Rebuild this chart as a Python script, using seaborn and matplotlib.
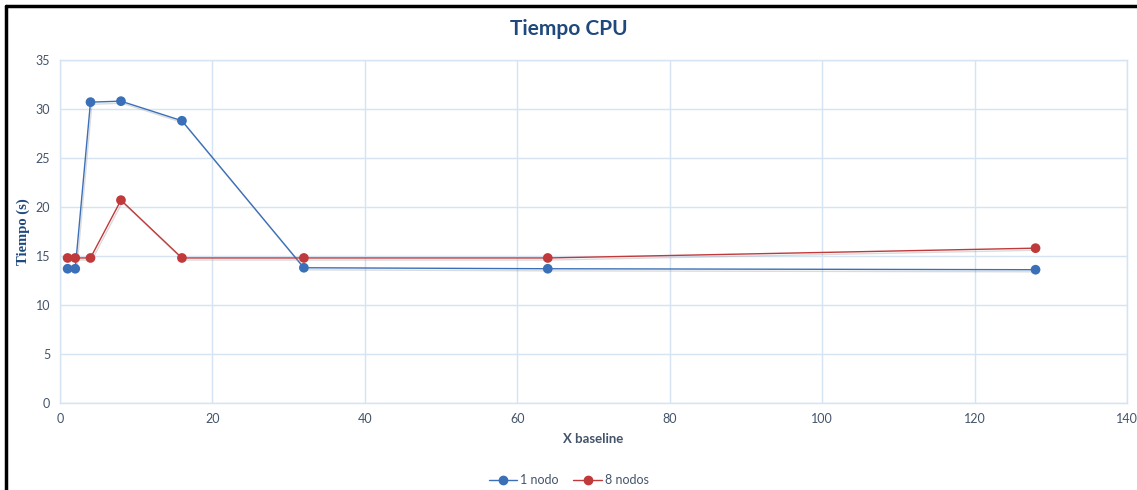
import matplotlib
matplotlib.use("Agg")
import matplotlib.pyplot as plt
import matplotlib.patheffects as pe
from matplotlib.lines import Line2D
import seaborn as sns
import pandas as pd

# Data
x_baseline = [1, 2, 4, 8, 16, 32, 64, 128]
tiempo_1_nodo = [13.7, 13.7, 30.7, 30.8, 28.8, 13.8, 13.7, 13.6]
tiempo_8_nodos = [14.8, 14.8, 14.8, 20.7, 14.8, 14.8, 14.8, 15.8]
series_names = ["1 nodo", "8 nodos"]
x_ticks = [0, 20, 40, 60, 80, 100, 120, 140]
y_ticks = [0, 5, 10, 15, 20, 25, 30, 35]

df = pd.DataFrame({
    "x": x_baseline * 2,
    "tiempo": tiempo_1_nodo + tiempo_8_nodos,
    "serie": [series_names[0]] * len(x_baseline) + [series_names[1]] * len(x_baseline),
})

sns.set_theme(style="white")
plt.rcParams["font.family"] = ["Lato", "DejaVu Sans"]

blue = "#3a70b8"
red = "#c0393b"
text_col = "#44546a"
title_col = "#1f497d"
grid_col = "#d6e3f3"

fig = plt.figure(figsize=(11.37, 4.90), dpi=100)
fig.patch.set_facecolor("white")
ax = fig.add_axes([60 / 1137, 87 / 490, (1127 - 60) / 1137, (403 - 60) / 490])

shadow = [pe.SimpleLineShadow(offset=(1, -1.5), shadow_color="#999999", alpha=0.35), pe.Normal()]

sns.lineplot(
    data=df, x="x", y="tiempo", hue="serie", palette=[blue, red],
    marker="o", markersize=7, markeredgewidth=0, linewidth=1.0,
    ax=ax, legend=False, path_effects=shadow,
)
for line, c in zip(ax.lines, [blue, red]):
    line.set_alpha(1)
    line.set_markerfacecolor(c)
    line.set_markeredgecolor(c)

ax.set_xlim(0, 140)
ax.set_ylim(0, 35)
ax.set_xticks(x_ticks)
ax.set_yticks(y_ticks)
ax.grid(True, color=grid_col, linewidth=1.0)
ax.set_axisbelow(True)
for s in ax.spines.values():
    s.set_color(grid_col)
    s.set_linewidth(1.0)
ax.tick_params(axis="both", length=0, labelsize=9, labelcolor=text_col, pad=7)

ax.set_xlabel("X baseline", fontsize=9.5, fontweight="bold", color=text_col, labelpad=6)
ax.set_ylabel("Tiempo (s)", fontsize=10.5, fontweight="bold", color=title_col,
              family=["Liberation Serif", "DejaVu Serif"], labelpad=4)

fig.text(0.5, 1 - 29 / 490, "Tiempo CPU", ha="center", va="center",
         fontsize=15, fontweight="bold", color=title_col)

handles = [
    Line2D([0], [0], color=blue, marker="o", markersize=6, linewidth=1.0),
    Line2D([0], [0], color=red, marker="o", markersize=6, linewidth=1.0),
]
fig.legend(handles, series_names, loc="center", bbox_to_anchor=(0.5, 1 - 480 / 490),
           ncol=2, frameon=False, fontsize=9, labelcolor=text_col,
           handlelength=2.3, handletextpad=0.2, columnspacing=1.2)

# Frame around the chart
fig.add_artist(Line2D([6 / 1137, 6 / 1137], [0, 1 - 6 / 490], color="black", linewidth=2.5,
                      transform=fig.transFigure))
fig.add_artist(Line2D([6 / 1137, 1], [1 - 6 / 490, 1 - 6 / 490], color="black", linewidth=2.5,
                      transform=fig.transFigure))

fig.savefig("out.png", dpi=100)
